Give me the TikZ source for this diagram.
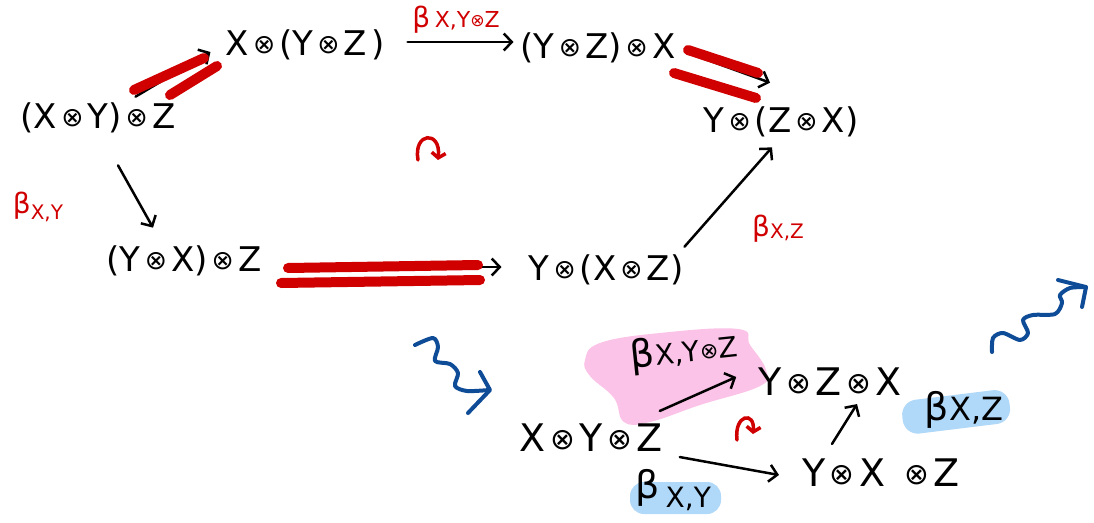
\documentclass[tikz,border=0pt]{standalone}
\usepackage{fontspec}
\setmainfont{DejaVu Sans}
\usepackage{graphicx}
\usetikzlibrary{arrows.meta}
\definecolor{hred}{HTML}{D00000}
\definecolor{hblue}{HTML}{0F4C97}
\definecolor{hpink}{HTML}{FBC3E7}
\definecolor{hlblue}{HTML}{B0D8F8}
\newcommand{\tens}{\raisebox{0.06em}{\scalebox{0.78}{⊗}}}
\newcommand{\sk}{\hspace{0.12em}}
\begin{document}
\begin{tikzpicture}[x=1pt,y=-1pt,
  obj/.style={inner sep=0pt, font=\fontsize{34}{38}\selectfont},
  bigobj/.style={inner sep=0pt, font=\fontsize{38}{42}\selectfont},
  arr/.style={line width=2.5pt, line cap=round, -{Straight Barb[length=8pt,width=17pt]}},
  lab/.style={inner sep=0pt, text=hred, font=\fontsize{28}{30}\selectfont},
  blab/.style={inner sep=0pt, font=\fontsize{38}{40}\selectfont},
  hl/.style={draw=hred, line width=10pt, line cap=round},
  squig/.style={draw=hblue, line width=4pt, line cap=round, line join=round},
  curl/.style={draw=hred, line width=3.5pt, line cap=round, -{Straight Barb[length=5pt,width=14pt]}},
]
\useasboundingbox (0,0) rectangle (1094,522);
\fill[white] (0,0) rectangle (1094,522);

% highlights (behind)
\fill[hpink] plot[smooth cycle, tension=0.7] coordinates {(585,360) (600,343) (660,333) (738,329) (750,345) (766,370) (760,386) (700,405) (650,422) (624,422) (614,398) (590,376)};
\fill[hlblue, rounded corners=15pt, rotate around={7:(955,411)}] (902,395) rectangle (1010,429);
\fill[hlblue, rounded corners=14pt] (630,482) rectangle (721,514);

% objects
\node[obj] (A) at (98,118) {(X\sk\tens\sk Y)\sk\tens\sk Z};
\node[obj] (B) at (305,45) {X\sk\tens\sk(Y\sk\tens\sk Z\sk)};
\node[obj] (C) at (598,48) {(Y\sk\tens\sk Z)\sk\tens\sk X};
\node[obj] (D) at (781,122) {Y\sk\tens\sk(Z\sk\tens\sk X)};
\node[obj] (E) at (184,261) {(Y\sk\tens\sk X)\sk\tens\sk Z};
\node[obj] (F) at (606,270) {Y\sk\tens\sk(X\sk\tens\sk Z)};
\node[bigobj] (G) at (591,438) {X\sk\tens\sk Y\sk\tens\sk Z};
\node[bigobj] (H) at (830,382) {Y\sk\tens\sk Z\sk\tens\sk X};
\node[bigobj] (I) at (881,473) {Y\sk\tens\sk X\hspace{0.5em}\tens\sk Z};

% red labels
\node[lab] (l1) at (456,20) {β\,{\fontsize{22}{24}\selectfont X,Y\tens Z}};
\node[lab] (l2) at (38,207) {β{\fontsize{20}{22}\selectfont\raisebox{-0.3em}{X,Y}}};
\node[lab] (l3) at (778,229) {β{\fontsize{20}{22}\selectfont\raisebox{-0.1em}{X,Z}}};

% black labels
\node[blab, rotate=6] (m1) at (684,352) {β{\fontsize{28}{30}\selectfont X,Y\tens Z}};
\node[blab] (m2) at (964,410) {β{\fontsize{32}{34}\selectfont X,Z}};
\node[blab] (m3) at (673,490) {β\,{\fontsize{28}{30}\selectfont\raisebox{-0.3em}{X,Y}}};

% connectors
\draw[arr] ([xshift=-40pt,yshift=6pt]A.north east) -- ([xshift=-15pt,yshift=-7pt]B.west);
\draw[arr] ([xshift=23pt,yshift=3pt]B.east) -- ([xshift=-7pt,yshift=6pt]C.west);
\draw[arr] ([xshift=10pt,yshift=-4pt]C.east) -- ([xshift=-11pt,yshift=24pt]D.north);
\draw[arr] ([xshift=20pt,yshift=-32pt]A.south) -- ([xshift=-31pt,yshift=18pt]E.north);
\draw[arr] ([xshift=32pt,yshift=-6pt]E.east) -- ([xshift=-27pt,yshift=3pt]F.west);
\draw[arr] ([xshift=1pt,yshift=8pt]F.north east) -- ([xshift=-9pt,yshift=-10pt]D.south);
\draw[arr] ([xshift=-3pt,yshift=13pt]G.north east) -- ([xshift=-22pt,yshift=5pt]H.west);
\draw[arr] ([xshift=17pt,yshift=-5pt]G.south east) -- ([xshift=-23pt,yshift=-2pt]I.west);
\draw[arr] ([xshift=-49pt,yshift=15pt]I.north) -- ([xshift=27pt,yshift=-8pt]H.south);

% red highlighter strokes
\draw[hl] (134,90) -- (204,58);
\draw[hl] (170,95) -- (217,66);
\draw[hl] (688,50) -- (758,73);
\draw[hl] (674,73) -- (756,98);
\draw[hl] (288,268) -- (478,265);
\draw[hl] (281,283) -- (480,280);

% commutation marks
\draw[curl] (418,160) .. controls (413,132) and (441,130) .. (438,160);
\draw[curl] (737,440) .. controls (734,414) and (755,411) .. (753,434);

% blue squiggles
\draw[squig] plot[smooth] coordinates {(415,345) (433,338) (438,347) (435,361) (450,364) (458,373) (455,386) (467,391) (489,390)};
\draw[squig] (480,372) -- (490,390) -- (468,413);
\draw[squig] plot[smooth] coordinates {(992,352) (993,338) (1003,333) (1020,340) (1028,333) (1023,320) (1033,315) (1055,314) (1062,303) (1060,295) (1070,288) (1086,287)};
\draw[squig] (1058,280) -- (1086,287) -- (1082,307);
\end{tikzpicture}
\end{document}
